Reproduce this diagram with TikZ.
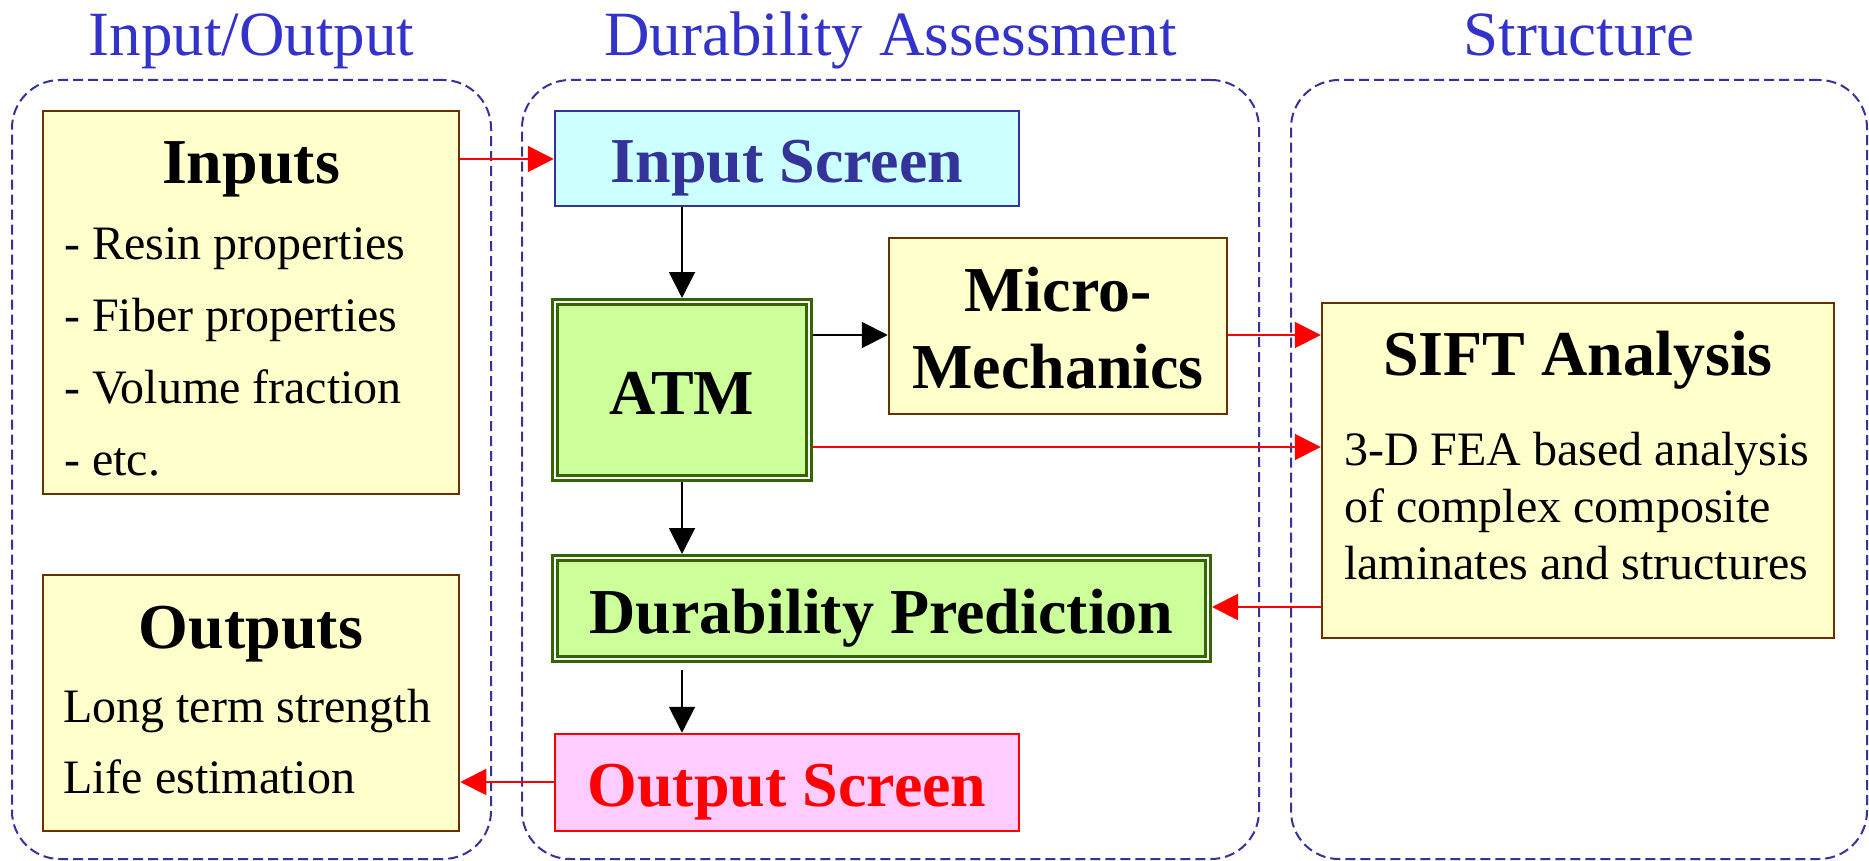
\documentclass[tikz,border=0pt]{standalone}
\usepackage{fontspec}
\setmainfont{Liberation Serif}
\usetikzlibrary{arrows.meta}
\definecolor{ttlblue}{HTML}{3333CC}
\definecolor{contblue}{HTML}{333399}
\definecolor{ybfill}{HTML}{FFFFCC}
\definecolor{ybdraw}{HTML}{663300}
\definecolor{cyfill}{HTML}{CCFFFF}
\definecolor{gnfill}{HTML}{CCFF99}
\definecolor{gndraw}{HTML}{336600}
\definecolor{pkfill}{HTML}{FFCCFF}
\begin{document}
\begin{tikzpicture}[x=1pt,y=-1pt,
  container/.style={draw=contblue,line width=2pt,dash pattern=on 10pt off 5pt,rounded corners=48pt,inner sep=0pt,minimum width=#1},
  ttl/.style={font=\fontsize{63}{70}\selectfont,text=ttlblue,anchor=base,inner sep=0pt},
  ybox/.style={draw=ybdraw,fill=ybfill,line width=2.5pt,inner sep=0pt},
  gbox/.style={draw=gndraw,fill=gnfill,line width=3pt,double=white,double distance=2pt,inner sep=0pt,outer sep=4pt},
  head/.style={font=\fontsize{64}{70}\selectfont\bfseries,anchor=base,inner sep=0pt},
  body/.style={font=\fontsize{48}{56}\selectfont,anchor=base west,inner sep=0pt},
  rarr/.style={draw=red,line width=2pt,-{Triangle[length=26pt,width=26pt]},color=red},
  karr/.style={draw=black,line width=2pt,-{Triangle[length=26pt,width=26pt]}}
]
\useasboundingbox (0,0) rectangle (1869,861);
% containers
\node[container=479pt,minimum height=779pt] (cio) at (251.5,469.5) {};
\node[container=737pt,minimum height=779pt] (cda) at (890.5,469.5) {};
\node[container=576pt,minimum height=779pt] (cst) at (1579,469.5) {};
\node[ttl] (tio) at (cio.north |- 0,56) {Input/Output};
\node[ttl] (tda) at (cda.north |- 0,56) {Durability Assessment};
\node[ttl] (tst) at (cst.north |- 0,56) {Structure};
% boxes
\node[ybox,minimum width=416pt,minimum height=383pt] (inputs) at (251,302.5) {};
\node[ybox,minimum width=416pt,minimum height=256pt] (outputs) at (251,703) {};
\node[draw=contblue,fill=cyfill,line width=2.5pt,inner sep=0pt,minimum width=464pt,minimum height=95pt] (iscreen) at (787,158.5) {};
\node[gbox,minimum width=254pt,minimum height=176pt] (atm) at (682,390) {};
\node[ybox,minimum width=338pt,minimum height=176pt] (micro) at (1058,326) {};
\node[ybox,minimum width=512pt,minimum height=335pt] (sift) at (1578,470.5) {};
\node[gbox,minimum width=653pt,minimum height=101pt] (dur) at (881.5,608.5) {};
\node[draw=red,fill=pkfill,line width=2.5pt,inner sep=0pt,minimum width=464pt,minimum height=97pt] (oscreen) at (787,782.5) {};
% texts
\node[head] (inputsT) at (inputs.north |- 0,184) {Inputs};
\node[body] (in1) at (64,259) {- Resin properties};
\node[body] (in2) at (64,331) {- Fiber properties};
\node[body] (in3) at (64,403) {- Volume fraction};
\node[body] (in4) at (64,475) {- etc.};
\node[head] (outputsT) at (outputs.north |- 0,648) {Outputs};
\node[body] (out1) at (63,722) {Long term strength};
\node[body] (out2) at (63,793) {Life estimation};
\node[head,text=contblue] (iscreenT) at (iscreen.north |- 0,183) {Input Screen};
\node[head] (atmT) at (atm.north |- 0,414) {ATM};
\node[head] (microT1) at (micro.north |- 0,311) {Micro-};
\node[head] (microT2) at (micro.north |- 0,388) {Mechanics};
\node[head] (siftT) at (sift.north |- 0,375) {SIFT Analysis};
\node[body] (sift1) at (1344,465) {3-D FEA based analysis};
\node[body] (sift2) at (1344,522) {of complex composite};
\node[body] (sift3) at (1344,579) {laminates and structures};
\node[head] (durT) at (dur.north |- 0,633) {Durability Prediction};
\node[head,text=red] (oscreenT) at (oscreen.north |- 0,806) {Output Screen};
% connectors
\draw[rarr] (inputs.east |- 0,159) -- (iscreen.west |- 0,159);
\draw[karr] (atm.north |- iscreen.south) -- (atm.north);
\draw[karr] (atm.east |- 0,335) -- (micro.west |- 0,335);
\draw[rarr] (micro.east |- 0,335) -- (sift.west |- 0,335);
\draw[rarr] (atm.east |- 0,447) -- (sift.west |- 0,447);
\draw[karr] (atm.south) -- (atm.south |- dur.north);
\draw[rarr] (sift.west |- 0,607) -- (dur.east |- 0,607);
\draw[karr] (atm.south |- 0,670) -- (atm.south |- oscreen.north);
\draw[rarr] (oscreen.west |- 0,782) -- (outputs.east |- 0,782);
\end{tikzpicture}
\end{document}
